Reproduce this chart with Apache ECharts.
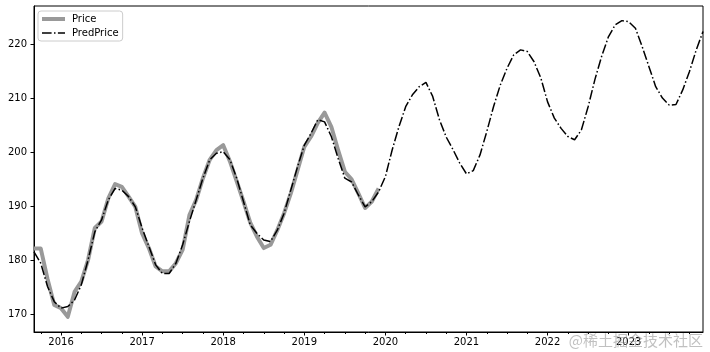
<!DOCTYPE html>
<html>
<head>
<meta charset="utf-8">
<script src="https://cdn.jsdelivr.net/npm/echarts@6/dist/echarts.min.js"></script>
<style>
  html, body { margin: 0; padding: 0; background: #fff; }
  #chart { width: 710px; height: 352px; }
</style>
</head>
<body>
<div id="chart"></div>
<script>
// Monthly categories, 2015-09 .. 2023-12
const startYear = 2015, startMonth = 9, monthCount = 100;
const months = [];
for (let k = 0; k < monthCount; k++) {
  const m = startMonth - 1 + k;
  const y = startYear + Math.floor(m / 12);
  const mm = (m % 12) + 1;
  months.push(y + '-' + (mm < 10 ? '0' + mm : '' + mm));
}

// Observed price (2015-09 .. 2019-12)
const price = [
  182.2, 182.2, 176.6, 171.8, 171.2, 169.6, 174.2, 176.1, 180.1, 186.0,
  187.2, 191.5, 194.1, 193.6, 191.8, 189.9, 185.0, 182.3, 178.9, 178.0,
  178.0, 179.5, 182.0, 188.4, 191.2, 195.2, 198.6, 200.4, 201.3, 198.3,
  194.6, 190.9, 187.0, 184.4, 182.3, 182.9, 185.6, 188.7, 192.4, 196.7,
  201.0, 202.9, 205.4, 207.3, 204.7, 200.4, 196.4, 195.0, 192.4, 189.7,
  190.9, 193.3
];

// Predicted price (2015-09 .. 2023-12)
const predPrice = [
  181.6, 179.5, 175.2, 172.4, 171.2, 171.5, 172.7, 175.5, 180.1, 185.3,
  187.5, 191.2, 193.3, 193.0, 191.8, 189.9, 186.0, 182.6, 179.2, 177.6,
  177.6, 179.5, 182.9, 187.2, 191.2, 195.2, 198.6, 199.8, 200.1, 198.6,
  195.2, 190.9, 186.6, 185.0, 183.8, 183.5, 185.6, 188.7, 193.0, 197.3,
  201.3, 203.5, 206.0, 205.6, 202.9, 198.9, 195.2, 194.5, 192.1, 189.9,
  190.9, 192.7, 195.5, 200.4, 204.7, 208.4, 210.6, 212.1, 212.9, 210.3,
  206.0, 202.8, 200.5, 198.0, 196.0, 196.6, 199.5, 203.8, 208.4, 212.4,
  215.5, 218.0, 218.9, 218.6, 216.7, 213.7, 209.3, 206.3, 204.4, 202.9,
  202.3, 204.1, 208.4, 213.4, 217.7, 221.3, 223.5, 224.3, 224.1, 222.9,
  219.5, 215.8, 212.1, 210.0, 208.7, 208.8, 211.5, 214.9, 218.9, 222.3
];

const seriesNames = ['Price', 'PredPrice'];
const yMin = 166.8, yMax = 227.0;

const FONT = 'DejaVu Sans';
const DASHDOT = [9.6, 2.4, 1.5, 2.4];
const chart = echarts.init(document.getElementById('chart'), null, { renderer: 'canvas' });

const isJan = (i, v) => v.slice(5) === '01';
const isQuarter = (i, v) => ['04', '07', '10'].indexOf(v.slice(5)) >= 0;

chart.setOption({
  animation: false,
  backgroundColor: '#fff',
  grid: {
    left: 34, right: 7, top: 6, bottom: 20,
    show: true, borderColor: '#000', borderWidth: 1, backgroundColor: 'transparent'
  },
  legend: {
    orient: 'vertical',
    left: 38, top: 11,
    data: [
      { name: seriesNames[0], itemStyle: { opacity: 0 },
        lineStyle: { color: '#999999', width: 4, type: 'solid' } },
      { name: seriesNames[1], itemStyle: { opacity: 0 },
        lineStyle: { color: '#000', width: 1.5, type: DASHDOT } }
    ],
    itemWidth: 23, itemHeight: 12, itemGap: 4,
    padding: [3, 4, 3, 2],
    borderColor: '#cccccc', borderWidth: 1, borderRadius: 3,
    backgroundColor: 'rgba(255,255,255,0.8)',
    textStyle: { fontFamily: FONT, fontSize: 10, color: '#000', padding: [0, 0, 0, 2] }
  },
  xAxis: [
    {
      type: 'category', data: months, boundaryGap: false,
      axisLine: { lineStyle: { color: '#000', width: 1 } },
      axisTick: { show: true, interval: isJan, length: 3.5, lineStyle: { color: '#000' } },
      axisLabel: {
        interval: isJan, formatter: v => v.slice(0, 4),
        fontFamily: FONT, fontSize: 10, color: '#000', margin: 5
      },
      splitLine: { show: false }
    },
    {
      type: 'category', data: months, boundaryGap: false, position: 'bottom',
      axisLine: { show: false },
      axisTick: { show: true, interval: isQuarter, length: 2, lineStyle: { color: '#000' } },
      axisLabel: { show: false },
      splitLine: { show: false }
    }
  ],
  yAxis: {
    type: 'value', min: yMin, max: yMax, splitNumber: 6, scale: true,
    axisLine: { show: true, lineStyle: { color: '#000', width: 1 } },
    axisTick: { show: true, length: 3.5, lineStyle: { color: '#000' } },
    axisLabel: {
      showMinLabel: false, showMaxLabel: false,
      fontFamily: FONT, fontSize: 10, color: '#000', margin: 7
    },
    splitLine: { show: false }
  },
  series: [
    {
      name: seriesNames[0], type: 'line', data: price,
      xAxisIndex: 0, symbol: 'none', z: 2,
      itemStyle: { color: '#999999' },
      lineStyle: { color: '#999999', width: 4, join: 'round', cap: 'butt' }
    },
    {
      name: seriesNames[1], type: 'line', data: predPrice,
      xAxisIndex: 0, symbol: 'none', z: 3,
      itemStyle: { color: '#000' },
      lineStyle: { color: '#000', width: 1.5, type: DASHDOT, cap: 'butt' }
    }
  ],
  graphic: [
    {
      type: 'text', right: 7, bottom: 4, z: 100, silent: true,
      style: {
        text: '@稀土掘金技术社区',
        font: '15px "Noto Sans CJK SC"',
        fill: 'rgba(150,150,150,0.6)'
      }
    }
  ]
});
</script>
</body>
</html>
